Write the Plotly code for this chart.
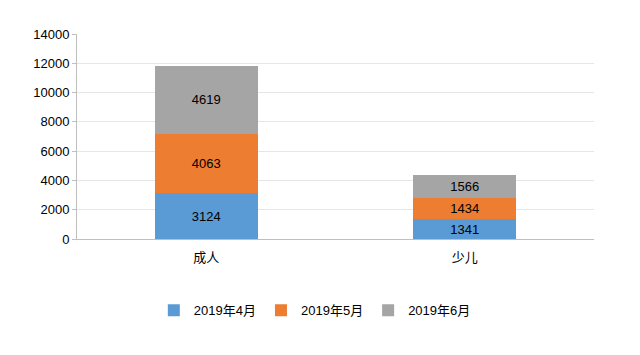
import plotly.graph_objects as go

categories = ["成人", "少儿"]
series_names = ["2019年4月", "2019年5月", "2019年6月"]
apr = [3124, 1341]
may = [4063, 1434]
jun = [4619, 1566]
colors = ["#5B9BD5", "#ED7D31", "#A5A5A5"]
y_ticks = [0, 2000, 4000, 6000, 8000, 10000, 12000, 14000]

font = "Liberation Sans, Arial, Noto Sans CJK SC, sans-serif"

fig = go.Figure()
for name, vals, c in zip(series_names, [apr, may, jun], colors):
    fig.add_trace(go.Bar(
        x=categories, y=vals, name=name, marker=dict(color=c, line=dict(width=0)),
        text=[str(v) for v in vals], textposition="inside", insidetextanchor="middle",
        textfont=dict(color="#000000", size=13, family=font),
    ))

fig.update_layout(
    barmode="stack",
    bargap=0.6,
    width=632, height=347,
    margin=dict(l=69, r=46, t=26, b=116, autoexpand=False),
    paper_bgcolor="white", plot_bgcolor="white",
    font=dict(family=font, size=13, color="#000000"),
    showlegend=True,
    legend=dict(orientation="h", x=0.46, xanchor="center", y=-0.275, yanchor="top",
                font=dict(size=13, family=font), traceorder="normal",
                itemwidth=30),
    uniformtext=dict(mode="show", minsize=13),
)
fig.update_xaxes(showline=True, linecolor="#BFBFBF", linewidth=1, ticks="",
                 ticklabelstandoff=6,
                 tickfont=dict(size=13, family=font), showgrid=False)
fig.update_yaxes(range=[0, 14000], tickvals=y_ticks, ticktext=[str(v) for v in y_ticks],
                 showline=True, linecolor="#BFBFBF",
                 linewidth=1, ticks="outside", ticklen=4, tickcolor="#BFBFBF",
                 gridcolor="#E6E6E6", gridwidth=1, zeroline=False,
                 tickfont=dict(size=13, family=font))

fig.write_html("out.html")
